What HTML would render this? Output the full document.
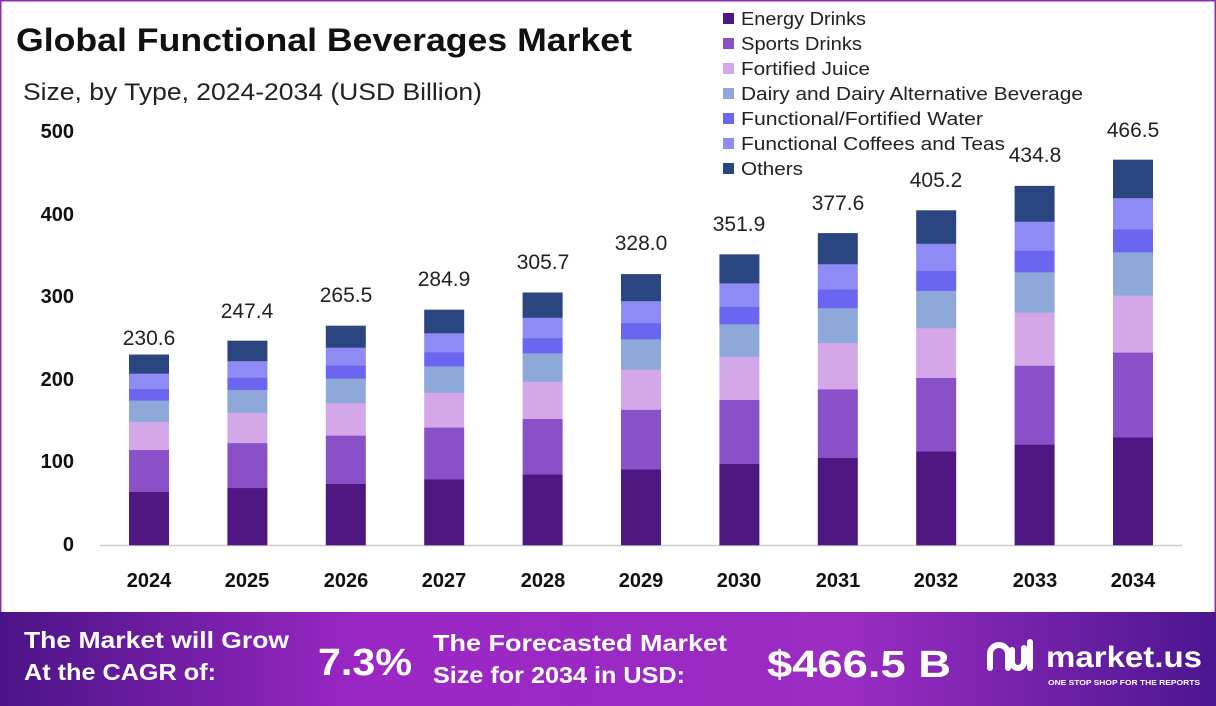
<!DOCTYPE html>
<html><head><meta charset="utf-8"><style>
body{margin:0;width:1216px;height:706px;overflow:hidden;background:#fff;font-family:"Liberation Sans",sans-serif}
svg{display:block}
</style></head><body>
<svg id="s" width="1216" height="706" xmlns="http://www.w3.org/2000/svg">
<defs>
<linearGradient id="bg" x1="0" x2="1" y1="0" y2="0">
<stop offset="0" stop-color="#4a1486"/><stop offset="0.3" stop-color="#9b27c4"/><stop offset="0.7" stop-color="#9a2cc2"/><stop offset="1" stop-color="#4c1690"/>
</linearGradient>
</defs>
<rect x="0.5" y="0.5" width="1215" height="705" fill="#fff" stroke="#8a2bb0" stroke-width="2"/>
<text x="16" y="51" font-size="32" font-weight="bold" fill="#111" textLength="616" lengthAdjust="spacingAndGlyphs">Global Functional Beverages Market</text>
<text x="23" y="100" font-size="24" fill="#222" textLength="459" lengthAdjust="spacingAndGlyphs">Size, by Type, 2024-2034 (USD Billion)</text>
<g font-size="20" font-weight="bold" fill="#111" text-anchor="end">
<text x="74" y="138">500</text><text x="74" y="221">400</text><text x="74" y="303">300</text><text x="74" y="386">200</text><text x="74" y="468">100</text><text x="74" y="551">0</text>
</g>
<line x1="100" y1="545.5" x2="1182" y2="545.5" stroke="#ccc" stroke-width="1.5"/>
<g id="bars"></g>
<g font-size="21" fill="#222" text-anchor="middle">
<text x="149" y="345">230.6</text><text x="247" y="318">247.4</text><text x="346" y="302">265.5</text><text x="444" y="286">284.9</text><text x="543" y="269">305.7</text><text x="641" y="250">328.0</text><text x="739" y="231">351.9</text><text x="838" y="210">377.6</text><text x="936" y="187">405.2</text><text x="1035" y="162">434.8</text><text x="1133" y="137">466.5</text>
</g>
<g font-size="20" font-weight="bold" fill="#111" text-anchor="middle">
<text x="149" y="587">2024</text><text x="247" y="587">2025</text><text x="346" y="587">2026</text><text x="444" y="587">2027</text><text x="543" y="587">2028</text><text x="641" y="587">2029</text><text x="739" y="587">2030</text><text x="838" y="587">2031</text><text x="936" y="587">2032</text><text x="1035" y="587">2033</text><text x="1133" y="587">2034</text>
</g>
<g font-size="18.5" fill="#222" lengthAdjust="spacingAndGlyphs">
<rect x="723" y="13" width="11" height="11" fill="#4e1782"/><text x="741" y="25" textLength="125" lengthAdjust="spacingAndGlyphs">Energy Drinks</text>
<rect x="723" y="38" width="11" height="11" fill="#8a50c8"/><text x="741" y="50" textLength="121" lengthAdjust="spacingAndGlyphs">Sports Drinks</text>
<rect x="723" y="63" width="11" height="11" fill="#d4a8e8"/><text x="741" y="75" textLength="129" lengthAdjust="spacingAndGlyphs">Fortified Juice</text>
<rect x="723" y="88" width="11" height="11" fill="#8ea8da"/><text x="741" y="100" textLength="342" lengthAdjust="spacingAndGlyphs">Dairy and Dairy Alternative Beverage</text>
<rect x="723" y="113" width="11" height="11" fill="#6b66f0"/><text x="741" y="125" textLength="242" lengthAdjust="spacingAndGlyphs">Functional/Fortified Water</text>
<rect x="723" y="138" width="11" height="11" fill="#8e8cf4"/><text x="741" y="150" textLength="264" lengthAdjust="spacingAndGlyphs">Functional Coffees and Teas</text>
<rect x="723" y="163" width="11" height="11" fill="#2a4580"/><text x="741" y="175" textLength="62" lengthAdjust="spacingAndGlyphs">Others</text>
</g>
<rect x="0" y="612" width="1216" height="94" fill="url(#bg)"/>
<g fill="#fff" font-weight="bold">
<text x="24" y="648" font-size="23" textLength="265" lengthAdjust="spacingAndGlyphs">The Market will Grow</text>
<text x="24" y="680" font-size="23" textLength="192" lengthAdjust="spacingAndGlyphs">At the CAGR of:</text>
<text x="318" y="675" font-size="38" textLength="94" lengthAdjust="spacingAndGlyphs">7.3%</text>
<text x="433" y="651" font-size="23" textLength="294" lengthAdjust="spacingAndGlyphs">The Forecasted Market</text>
<text x="433" y="683" font-size="23" textLength="252" lengthAdjust="spacingAndGlyphs">Size for 2034 in USD:</text>
<text x="767" y="677" font-size="38" textLength="184" lengthAdjust="spacingAndGlyphs">$466.5 B</text>
<text x="1046" y="667" font-size="30" textLength="156" lengthAdjust="spacingAndGlyphs">market.us</text>
<text x="1048" y="685" font-size="7" textLength="152" lengthAdjust="spacingAndGlyphs">ONE STOP SHOP FOR THE REPORTS</text>
<path d="M990 668 v-14 a9 9 0 0 1 18 0 v14 M1012 650 v12 a6 6 0 0 0 12 0 v-14 M1030 642 v26" stroke="#fff" stroke-width="6" fill="none" stroke-linecap="round"/>
</g>
</svg>
<script>
var vals=[230.6,247.4,265.5,284.9,305.7,328.0,351.9,377.6,405.2,434.8,466.5];
var fr=[0.28,0.22,0.148,0.112,0.06,0.081,0.099];
var col=["#4e1782","#8a50c8","#d4a8e8","#8ea8da","#6b66f0","#8e8cf4","#2a4580"];
var g=document.getElementById("bars"),ns="http://www.w3.org/2000/svg";
vals.forEach(function(v,i){var cx=149+i*98.4,y=545,h=v*0.826;
fr.forEach(function(f,j){var sh=h*f;var r=document.createElementNS(ns,"rect");
r.setAttribute("x",cx-20);r.setAttribute("width",40);r.setAttribute("y",y-sh);r.setAttribute("height",sh+0.3);r.setAttribute("fill",col[j]);g.appendChild(r);y-=sh;});});
</script>
</body></html>
